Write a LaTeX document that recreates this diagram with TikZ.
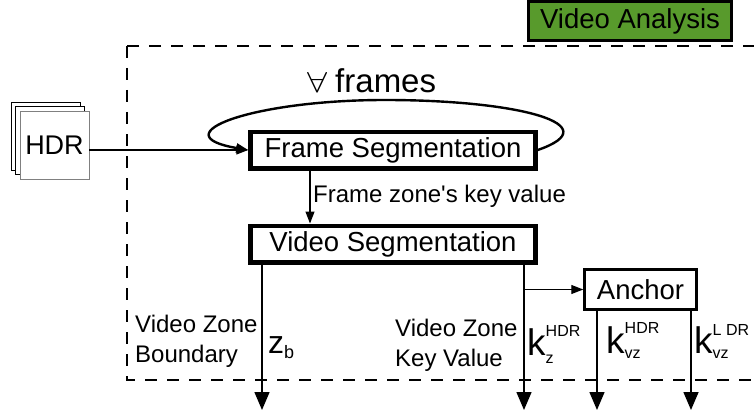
\documentclass[tikz,border=0pt]{standalone}
\usepackage{fontspec}
\setmainfont{Liberation Sans}
\usetikzlibrary{arrows.meta,calc}

\definecolor{analysisgreen}{RGB}{88,154,44}

% k with a superscript and a subscript stacked after it
% #1 superscript, #2 subscript, #3 raise of the superscript, #4 drop of the subscript
\newcommand\kterm[4]{k\rlap{\raisebox{#3}{\fontsize{16}{16}\selectfont #1}}\raisebox{-#4}{\fontsize{16}{16}\selectfont #2}}

\begin{document}
\begin{tikzpicture}[x=1pt,y=-1pt,
  boxtext/.style={font=\fontsize{27.5}{33}\selectfont},
  segbox/.style={draw, rectangle, boxtext, inner sep=0pt, line width=4.5pt,
    minimum width=285pt, minimum height=36.5pt},
  anchorbox/.style={draw, rectangle, boxtext, inner sep=0pt, line width=2.5pt,
    minimum width=112pt, minimum height=40pt},
  titlebox/.style={draw, rectangle, boxtext, inner sep=0pt, line width=3pt,
    fill=analysisgreen, minimum width=203pt, minimum height=39pt},
  hdrbox/.style={draw=black!50, fill=white, rectangle, inner sep=0pt, line width=0.9pt,
    minimum width=69pt, minimum height=68pt, font=\fontsize{27}{32}\selectfont},
  framebox/.style={draw, fill=white, line width=0.9pt},
  region/.style={draw, line width=2.6pt, dash pattern=on 12pt off 10pt},
  thinarrow/.style={line width=1.2pt, -{Triangle[length=12pt,width=9pt]}},
  outarrow/.style={line width=1.5pt, -{Triangle[length=18pt,width=15pt]}},
  loopline/.style={line width=2.4pt},
  plain/.style={inner sep=0pt, anchor=base west},
  midtext/.style={plain, font=\fontsize{24}{28}\selectfont},
  sidetext/.style={plain, align=left, font=\fontsize{24}{29.5}\selectfont},
  symtext/.style={plain, font=\fontsize{37}{40}\selectfont},
]
\useasboundingbox (0,0) rectangle (754,417);
\clip (0,0) rectangle (754,417);

% analysis region
\draw[region] (127,46) rectangle (800,380);

% title
\node[titlebox] (title) at (630,21) {Video Analysis};

% stack of HDR frames
\draw[framebox] (11,102) rectangle ++(69,68);
\draw[framebox] (15.5,106.5) rectangle ++(69,68);
\node[hdrbox] (hdr) at (54.5,145) {HDR};

% processing blocks
\node[segbox] (fs) at (393,150) {Frame Segmentation};
\node[segbox] (vs) at (393,244) {Video Segmentation};
\node[anchorbox] (anc) at (640.5,289.5) {Anchor};

% loop over all frames
\draw[loopline, -{Triangle[length=12pt,width=9pt]}]
  (fs.east) .. controls (610,125) and (520,100) .. (385,100)
            .. controls (250,100) and (160,135) .. (fs.west);
\node[plain, font=\fontsize{33}{36}\selectfont] (forall) at (307,93)
  {{\fontsize{24.88}{30}\selectfont\scalebox{1.45}[1.16]{$\forall$}}\hspace{8pt}frames};

% input
\draw[thinarrow] (hdr.east |- fs.west) -- (fs.west);

% frame segmentation to video segmentation
\coordinate (fzx) at (310,0);
\draw[thinarrow] (fs.south -| fzx) -- (vs.north -| fzx);
\node[midtext] (fzlabel) at (313,202) {Frame zone\textquotesingle s key value};

% outputs
\coordinate (zbend) at (262,410);
\coordinate (kzend) at (524,410);
\coordinate (kv1end) at (597,410);
\coordinate (kv2end) at (691,410);
\draw[outarrow] (vs.south -| zbend) -- (zbend);
\draw[outarrow] (vs.south -| kzend) -- (kzend);
\draw[thinarrow] (anc.west -| kzend) -- (anc.west);
\draw[outarrow] (anc.south -| kv1end) -- (kv1end);
\draw[outarrow] (anc.south -| kv2end) -- (kv2end);

% output labels (a two-line node sits on the baseline of its last line)
\node[sidetext] (zbtext) at (135,362) {Video Zone\\Boundary};
\node[plain, font=\fontsize{32}{36}\selectfont] (zb) at (268,353)
  {z\raisebox{-5pt}{\fontsize{18}{18}\selectfont b}};
\node[sidetext] (kztext) at (395,366) {Video Zone\\Key Value};
\node[symtext] (kz) at (527,355) {\kterm{HDR}{z}{19pt}{8pt}};
\node[symtext] (kv1) at (606,353) {\kterm{HDR}{vz}{20pt}{5pt}};
\node[symtext] (kv2) at (694,353) {\kterm{L DR}{vz}{18pt}{5pt}};
\end{tikzpicture}
\end{document}
